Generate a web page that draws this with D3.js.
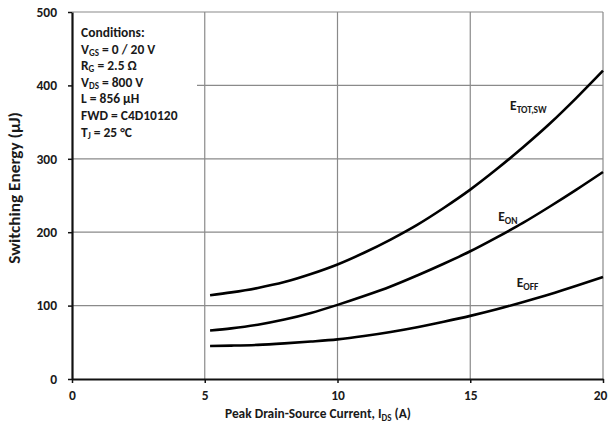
<!DOCTYPE html>
<html>
<head>
<meta charset="utf-8">
<script src="https://cdn.jsdelivr.net/npm/d3@7"></script>
<style>
  html, body { margin: 0; padding: 0; background: #fff; }
  svg { display: block; font-family: Carlito, Lato, "Open Sans", sans-serif; font-weight: bold; }
</style>
</head>
<body>
<svg id="chart" width="608" height="430"></svg>
<script>
// Peak drain-source current (A)
const current = [5.2, 6, 7, 8, 9, 10, 11, 12, 13, 14, 15, 16, 17, 18, 19, 20];
// Switching energies (µJ)
const eTotSw = [114, 118, 124, 132, 143, 156, 172, 190, 210, 233, 258, 286, 316, 348, 383, 420];
const eOn    = [66, 69, 74, 81, 90, 101, 113, 126, 141, 157, 174, 193, 213, 235, 258, 282];
const eOff   = [45, 45.5, 46.5, 48.5, 51, 54, 58.5, 64, 70.5, 78, 86, 95, 105, 115.5, 127, 139];

const xTicks = [0, 5, 10, 15, 20];
const yTicks = [0, 100, 200, 300, 400, 500];

const conditions = [
  [["Conditions:", false]],
  [["V", false], ["GS", true], [" = 0 / 20 V", false]],
  [["R", false], ["G", true], [" = 2.5 Ω", false]],
  [["V", false], ["DS", true], [" = 800 V", false]],
  [["L = 856 µH", false]],
  [["FWD = C4D10120", false]],
  [["T", false], ["J", true], [" = 25 °C", false]]
];

const svg = d3.select("#chart");
const plotLeft = 72, plotRight = 603, plotTop = 12, plotBottom = 379;

const x = d3.scaleLinear().domain([0, 20]).range([plotLeft, plotRight]);
const y = d3.scaleLinear().domain([0, 500]).range([plotBottom, plotTop]);

const gridColor = "#8a8a8a";
const ink = "#1a1a1a";

// gridlines
svg.append("g").selectAll("line")
  .data(xTicks.filter(d => d > 0))
  .join("line")
  .attr("x1", d => x(d)).attr("x2", d => x(d))
  .attr("y1", plotTop).attr("y2", plotBottom)
  .attr("stroke", gridColor).attr("stroke-width", 1.2);

svg.append("g").selectAll("line")
  .data(yTicks.filter(d => d > 0))
  .join("line")
  .attr("x1", plotLeft).attr("x2", plotRight)
  .attr("y1", d => y(d)).attr("y2", d => y(d))
  .attr("stroke", gridColor).attr("stroke-width", 1.2);

// conditions box
svg.append("rect")
  .attr("x", plotLeft + 1).attr("y", plotTop + 2)
  .attr("width", 124).attr("height", 138)
  .attr("fill", "#fff");

const cond = svg.append("g").attr("font-size", 13.5).attr("fill", ink);
conditions.forEach((row, i) => {
  const t = cond.append("text").attr("x", 81).attr("y", 37 + i * 16.6);
  row.forEach(([s, sub], j) => {
    const ts = t.append("tspan").text(s);
    if (sub) ts.attr("font-size", 9).attr("dy", 2);
    else if (j > 0) ts.attr("dy", -2);
  });
});

// axes
const xAxis = svg.append("g")
  .attr("transform", `translate(0,${plotBottom})`)
  .call(d3.axisBottom(x).tickValues(xTicks).tickSize(4).tickSizeOuter(0).tickPadding(7));
const yAxis = svg.append("g")
  .attr("transform", `translate(${plotLeft},0)`)
  .call(d3.axisLeft(y).tickValues(yTicks).tickSize(4).tickSizeOuter(0).tickPadding(11));

[xAxis, yAxis].forEach(g => {
  g.select(".domain").attr("stroke", "#111").attr("stroke-width", 2.2);
  g.selectAll(".tick line").attr("stroke", "#111").attr("stroke-width", 1.5);
  g.selectAll(".tick text")
    .attr("font-family", "Carlito, Lato, 'Open Sans', sans-serif")
    .attr("font-weight", "bold").attr("font-size", 13.5).attr("fill", ink);
});
// keep the last x label inside the page edge
xAxis.selectAll(".tick text").filter(d => d === 20).attr("x", -3);

// curves
const line = d3.line()
  .x((d, i) => x(current[i]))
  .y(d => y(d))
  .curve(d3.curveMonotoneX);

[eTotSw, eOn, eOff].forEach(series => {
  svg.append("path")
    .attr("d", line(series))
    .attr("fill", "none")
    .attr("stroke", "#000")
    .attr("stroke-width", 2.6);
});

// curve labels
const curveLabels = [
  { main: "E", sub: "TOT,SW", cx: 16.5, cy: 366 },
  { main: "E", sub: "ON", cx: 16.05, cy: 215 },
  { main: "E", sub: "OFF", cx: 16.75, cy: 125 }
];
const lbl = svg.append("g").attr("font-size", 13.5).attr("fill", ink);
curveLabels.forEach(d => {
  const t = lbl.append("text").attr("x", x(d.cx)).attr("y", y(d.cy));
  t.append("tspan").text(d.main);
  t.append("tspan").text(d.sub).attr("font-size", 9.5).attr("dy", 2.5);
});

// axis titles
const xt = svg.append("text")
  .attr("x", 318).attr("y", 418)
  .attr("text-anchor", "middle").attr("font-size", 13.4).attr("fill", ink);
xt.append("tspan").text("Peak Drain-Source Current, I");
xt.append("tspan").text("DS").attr("font-size", 9).attr("dy", 2.5);
xt.append("tspan").text(" (A)").attr("dy", -2.5);

svg.append("text")
  .attr("transform", `translate(20,188) rotate(-90) scale(1.15,1)`)
  .attr("text-anchor", "middle").attr("font-size", 15).attr("fill", ink)
  .text("Switching Energy (µJ)");
</script>
</body>
</html>
